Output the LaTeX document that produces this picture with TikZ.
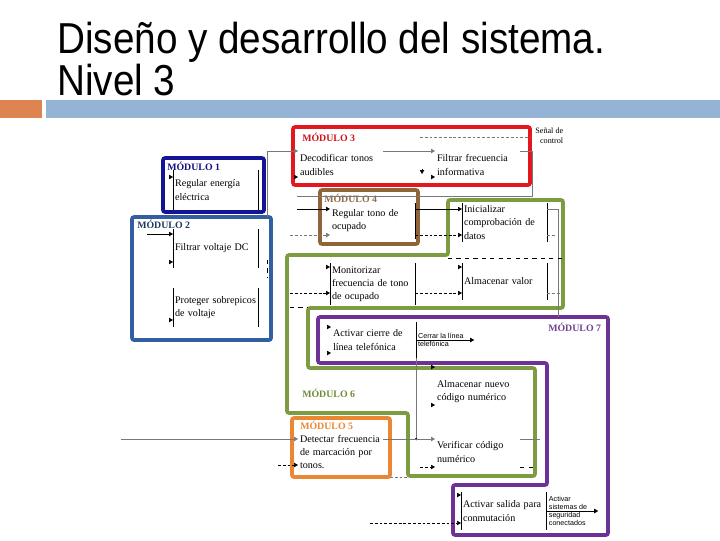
\documentclass[tikz,border=0pt]{standalone}
\usepackage{fontspec}
\setmainfont{Liberation Serif}
\setsansfont{Liberation Sans}
\newfontfamily\titlefont{Liberation Sans}
\usetikzlibrary{positioning,arrows.meta,calc}
\definecolor{TitleOrange}{RGB}{221,132,80}
\definecolor{TitleBlue}{RGB}{149,179,212}
\definecolor{ModOne}{RGB}{20,20,150}
\definecolor{ModTwo}{RGB}{50,95,160}
\definecolor{ModThree}{RGB}{228,22,30}
\definecolor{ModFour}{RGB}{145,100,55}
\definecolor{ModFive}{RGB}{235,135,50}
\definecolor{ModSix}{RGB}{125,155,65}
\definecolor{ModSeven}{RGB}{110,50,150}
\definecolor{LineGray}{RGB}{120,120,120}
\tikzset{
  titletext/.style={anchor=base west,inner sep=0,font=\titlefont\fontsize{27.5}{30}\selectfont},
  modline/.style={line width=2.6pt,rounded corners=1.5pt},
  modframe/.style={modline,anchor=north west,inner sep=0,outer sep=0},
  modlabel/.style={anchor=base west,inner sep=0,font=\fontsize{7}{8}\selectfont\bfseries},
  act/.style={anchor=north west,align=left,inner xsep=0.05cm,inner ysep=0,outer sep=0,
    text width=2.03cm,font=\fontsize{7.2}{9.3}\selectfont},
  sidetext/.style={align=left,inner sep=0,font=\sffamily\fontsize{5.1}{5.8}\selectfont},
  actbar/.style={line width=0.6pt},
  flow/.style={-{Triangle[length=1mm,width=1.1mm]},line width=0.45pt},
  grayflow/.style={flow,draw=LineGray},
  dashflow/.style={flow,dash pattern=on 2pt off 1.4pt},
  grayline/.style={line width=0.45pt,draw=LineGray},
  graydash/.style={grayline,dash pattern=on 2pt off 1.4pt}
}
\newcommand\actbars[1]{\draw[actbar] (#1.north west) -- (#1.south west) (#1.north east) -- (#1.south east);}

\begin{document}
\begin{tikzpicture}[x=0.025cm,y=-0.025cm]
  \fill[white] (0,0) rectangle (720,540);
  \useasboundingbox (0,0) rectangle (720,540);

  % title and bar
  \node[titletext] (title) at (57,53) {\scalebox{1}[1.12]{Diseño y desarrollo del sistema.}};
  \node[titletext] (level) at (57,95) {\scalebox{1}[1.12]{Nivel 3}};
  \fill[TitleOrange] (0,100) rectangle (42,118);
  \fill[TitleBlue] (46,100) rectangle (720,118);

  % module frames
  \node[modframe,draw=ModOne,minimum width=2.525cm,minimum height=1.35cm] (m1) at (163,158) {};
  \node[modframe,draw=ModTwo,minimum width=3.475cm,minimum height=3.075cm] (m2) at (132,217) {};
  \node[modframe,draw=ModThree,minimum width=5.925cm,minimum height=1.45cm] (m3) at (293,127) {};
  \node[modframe,draw=ModFour,minimum width=2.45cm,minimum height=1.35cm] (m4) at (320,190) {};
  \node[modframe,draw=ModFive,minimum width=2.45cm,minimum height=1.475cm] (m5) at (292,418) {};
  \draw[modline,draw=ModSix] (287,255) -- (448,255) -- (448,200) -- (563,200) -- (563,308)
    -- (308,308) -- (308,368) -- (535,368) -- (535,476) -- (408,476) -- (408,413) -- (287,413) -- cycle;
  \draw[modline,draw=ModSeven] (318,317) -- (608,317) -- (608,535) -- (453,535) -- (453,485)
    -- (547,485) -- (547,363) -- (318,363) -- cycle;

  \node[modlabel,text=ModOne!85!black] at (167,170) {MÓDULO 1};
  \node[modlabel,text=ModTwo!60!black] at (137,228) {MÓDULO 2};
  \node[modlabel,text=ModThree!90!black] at (302,141) {MÓDULO 3};
  \node[modlabel,text=ModFour!75!gray] at (324,202) {MÓDULO 4};
  \node[modlabel,text=ModFive] at (300,429) {MÓDULO 5};
  \node[modlabel,text=ModSix!90!black] at (302,397) {MÓDULO 6};
  \node[modlabel,text=ModSeven!80!gray] at (548,331) {MÓDULO 7};

  % activities
  \node[act,minimum height=1cm] (regEnergia) at (173,170) {Regular energía\\eléctrica};
  \node[act,minimum height=0.975cm] (filtVoltaje) at (173,229) {Filtrar voltaje DC};
  \node[act,minimum height=0.975cm] (protSobre) at (173,288) {Proteger sobrepicos\\de voltaje};
  \node[act,minimum height=0.75cm] (decod) at (298,150) {Decodificar tonos\\audibles};
  \node[act,minimum height=0.75cm] (filtFrec) at (435,150) {Filtrar frecuencia\\informativa};
  \node[act,minimum height=0.9cm] (regTono) at (330,203) {Regular tono de\\ocupado};
  \node[act,minimum height=0.975cm] (inicial) at (462,203) {Inicializar\\comprobación de\\datos};
  \node[act,minimum height=1.05cm] (monitor) at (330,263) {Monitorizar\\frecuencia de tono\\de ocupado};
  \node[act,minimum height=0.925cm] (almValor) at (462,263) {Almacenar valor};
  \node[act,minimum height=0.9cm] (actCierre) at (331,322) {Activar cierre de\\línea telefónica};
  \node[act,minimum height=1cm] (almNuevo) at (435,372) {Almacenar nuevo\\código numérico};
  \node[act,minimum height=0.9cm] (verif) at (435,434) {Verificar código\\numérico};
  \node[act,minimum height=1.15cm] (detect) at (298,429) {Detectar frecuencia\\de marcación por\\tonos.};
  \node[act,minimum height=0.95cm] (actSalida) at (461,492) {Activar salida para\\conmutación};

  \actbars{regEnergia}
  \actbars{filtVoltaje}
  \actbars{protSobre}
  \actbars{inicial}
  \actbars{monitor}
  \actbars{almValor}
  \actbars{actSalida}
  \draw[actbar] (regTono.north east) -- (regTono.south east);
  \draw[actbar] (actCierre.north east) -- (actCierre.south east);

  \node[sidetext,font=\fontsize{5.8}{6.8}\selectfont,align=right,anchor=north west] (senal)
    at ($(m3.north east)+(5,1)$) {Señal de\\control};
  \node[sidetext,right=0.04cm of actCierre.east] (cerrar) {Cerrar la línea\\telefónica};
  \node[sidetext,right=0.06cm of actSalida.east] (sistemas) {Activar\\sistemas de\\seguridad\\conectados};

  % module 1 and 2
  \draw[flow] ($(regEnergia.north west)+(-4,7)$) -- ++(4,0);
  \draw[flow] ($(filtVoltaje.north west)+(-26,5)$) -- ++(26,0);
  \draw[flow] ($(filtVoltaje.north west)+(-4,33)$) -- ++(4,0);
  \draw[flow] ($(protSobre.north west)+(-4,32)$) -- ++(4,0);
  \draw[dashed] ($(m2.north east)+(-4,43)$) -- ++(0,18);

  % module 3
  \draw[grayflow] ($(m2.north east)+(-4,0)$) |- ($(decod.north west)+(0,1)$);
  \draw[flow] ($(decod.north west)+(-4,27)$) -- ++(4,0);
  \draw[grayflow] ($(decod.north east)+(0,1)$) -- ($(filtFrec.north west)+(0,1)$);
  \draw[flow] ($(filtFrec.north west)+(-13,19)$) -- ++(0,5);
  \draw[flow] ($(filtFrec.north west)+(-4,27)$) -- ++(4,0);
  \draw[graydash] ($(filtFrec.north west)+(-15,-13)$) -- ++(110,0);
  \draw[grayline] ($(filtFrec.north east)+(0,1)$) -- ++(12,0) |- ($(regTono.north west)+(-33,-7)$);

  % module 4
  \draw[flow] ($(regTono.north west)+(-33,6)$) -- ++(33,0);
  \draw[dashflow,draw=LineGray] ($(regTono.north west)+(-40,32)$) -- ++(40,0);
  \draw[flow] ($(regTono.north east)+(0,6)$) -- ($(inicial.north west)+(0,6)$);
  \draw[dashflow] ($(regTono.north east)+(0,32)$) -- ($(inicial.north west)+(0,32)$);

  % module 6, upper part
  \draw[grayline] ($(inicial.north east)+(0,6)$) -- ++(11,0) -- ++(0,108);
  \draw[graydash] ($(inicial.north east)+(0,32)$) -- ++(8,0);
  \draw[dashed] ($(almValor.north west)+(-14,-5)$) -- ++(115,0);
  \draw[flow] ($(monitor.north west)+(-4,4)$) -- ++(4,0);
  \draw[dashflow] ($(monitor.north west)+(-40,30)$) -- ++(40,0);
  \draw[dashflow] ($(monitor.north east)+(0,30)$) -- ($(almValor.north west)+(0,30)$);
  \draw[flow] ($(almValor.north west)+(-4,4)$) -- ++(4,0);
  \draw[graydash] ($(almValor.north east)+(0,30)$) -- ++(13,0);
  \draw[dashed] ($(monitor.north west)+(-40,44)$) -- ++(18,0);

  % module 7 and the rest
  \draw[flow] ($(actCierre.north west)+(-4,5)$) -- ++(4,0);
  \draw[flow] ($(actCierre.north west)+(-4,31)$) -- ++(4,0);
  \draw[flow] (actCierre.east) -- ++(58,0);
  \draw[grayline] (actCierre.south east) -- ++(0,81) coordinate (joint);
  \fill (joint) circle (0.9pt);
  \draw[flow] ($(almNuevo.north west)+(-4,-5)$) -- ++(4,0);
  \draw[flow] ($(almNuevo.north west)+(-4,33)$) -- ++(4,0);
  \draw[grayflow] ($(detect.north west)+(-177,10)$) -- ++(177,0);
  \draw[dashflow] ($(detect.north west)+(-20,36)$) -- ++(20,0);
  \draw[grayflow] ($(detect.north east)+(0,10)$) -- ($(verif.north west)+(0,5)$);
  \draw[dashflow] ($(verif.north west)+(-15,33)$) -- ++(15,0);
  \draw[grayline] ($(verif.north east)+(0,5)$) -- ++(20,0);
  \draw[dashed] ($(verif.north east)+(0,33)$) -- ++(13,0);
  \draw[graydash] (m5.south east) -- ++(17,0);
  \draw[flow] ($(actSalida.north west)+(-4,3)$) -- ++(4,0);
  \draw[dashflow,draw=black] ($(actSalida.north west)+(-91,31)$) -- ++(91,0);
  \draw[flow] (actSalida.east) -- ++(52,0);
\end{tikzpicture}
\end{document}
